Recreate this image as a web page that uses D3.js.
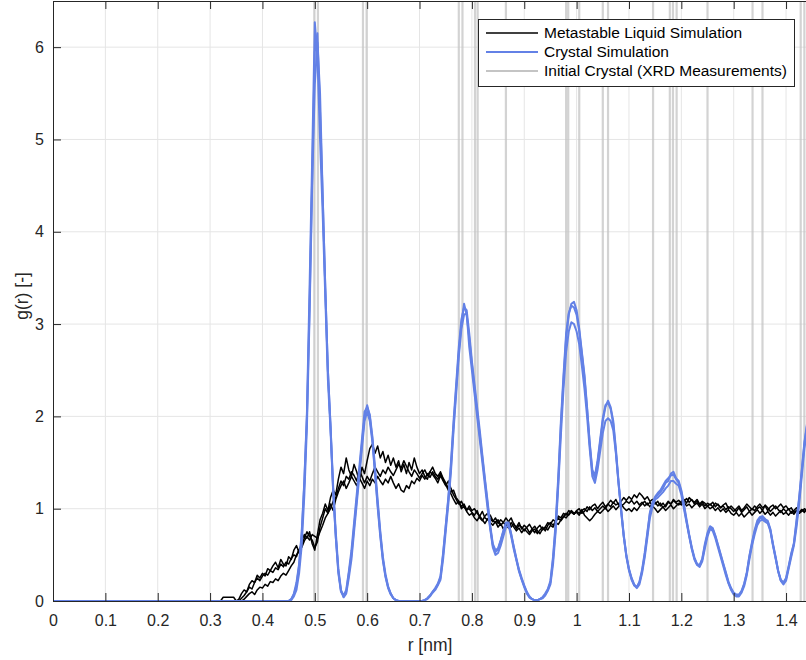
<!DOCTYPE html>
<html><head><meta charset="utf-8">
<script src="https://cdn.jsdelivr.net/npm/d3@7"></script>
<style>body{margin:0;background:#fff;}svg{display:block;font-family:"Liberation Sans",Arial,sans-serif;}</style>
</head><body><svg id="c" width="806" height="660"></svg>
<script>
// r grid [nm]: first point 0, then 0.30 .. 1.44 step 0.005
const rValues = [0].concat(d3.range(229).map(i => +(0.30 + i * 0.005).toFixed(3)));

const xTicks = [0,0.1,0.2,0.3,0.4,0.5,0.6,0.7,0.8,0.9,1.0,1.1,1.2,1.3,1.4];
const yTicks = [0,1,2,3,4,5,6];
const legendLabels = ["Metastable Liquid Simulation","Crystal Simulation","Initial Crystal (XRD Measurements)"];

// XRD peak positions (initial crystal)
const xrdPeaks = [0.499,0.506,0.592,0.599,0.775,0.782,0.806,0.811,0.865,0.980,0.984,1.005,1.050,1.060,1.146,1.178,1.184,1.191,1.250,1.336,1.355,1.428,1.435];

// Crystal simulation runs
const crystalA = [0,
0,0,0,0,0,0,0,0,0,0,
0,0,0,0,0,0,0,0,0,0,
0,0,0,0,0,0,0,0,0,0,
0,0.02,0.08,0.2,0.4,0.75,1.3,2.05,3.4,4.8,
6.27,5.9,5.0,4.2,3.3,2.4,1.85,1.2,0.7,0.3,
0.1,0.05,0.1,0.3,0.5,0.8,1.1,1.4,1.7,2.0,
2.12,2.0,1.75,1.4,1.05,0.73,0.45,0.27,0.15,0.08,
0.03,0.01,0,0,0,0,0,0,0,0,
0,0,0.01,0.03,0.06,0.1,0.13,0.18,0.25,0.5,
0.8,1.1,1.45,1.9,2.3,2.7,3.0,3.22,3.1,2.85,
2.57,2.3,2.05,1.8,1.55,1.3,1.05,0.8,0.6,0.53,
0.56,0.65,0.75,0.85,0.85,0.72,0.58,0.45,0.33,0.24,
0.16,0.09,0.04,0.02,0.01,0.01,0.02,0.04,0.07,0.12,
0.2,0.45,0.8,1.3,1.9,2.4,2.85,3.1,3.22,3.24,
3.15,2.95,2.7,2.45,2.1,1.7,1.4,1.33,1.5,1.72,
1.95,2.1,2.17,2.1,1.95,1.65,1.3,1.0,0.72,0.5,
0.35,0.25,0.18,0.15,0.2,0.32,0.5,0.72,0.95,1.05,
1.12,1.15,1.18,1.22,1.28,1.3,1.38,1.4,1.33,1.3,
1.2,1.05,0.88,0.72,0.58,0.47,0.4,0.38,0.45,0.6,
0.72,0.8,0.78,0.7,0.6,0.5,0.4,0.3,0.2,0.13,
0.08,0.06,0.06,0.1,0.18,0.3,0.48,0.62,0.75,0.85,
0.9,0.9,0.88,0.87,0.78,0.62,0.48,0.33,0.23,0.2,
0.25,0.38,0.52,0.62,0.85,1.1,1.4,1.7,1.9];

const crystalB = [0,
0,0,0,0,0,0,0,0,0,0,
0,0,0,0,0,0,0,0,0,0,
0,0,0,0,0,0,0,0,0,0,
0,0.01,0.05,0.12,0.3,0.6,1.15,1.9,3.1,4.5,
5.6,6.05,5.5,4.4,3.4,2.5,1.9,1.25,0.75,0.35,
0.12,0.04,0.08,0.25,0.45,0.75,1.05,1.35,1.65,1.95,
2.05,1.95,1.72,1.38,1.02,0.7,0.44,0.26,0.14,0.07,
0.03,0.01,0,0,0,0,0,0,0,0,
0,0,0.01,0.02,0.05,0.09,0.12,0.17,0.23,0.45,
0.75,1.05,1.4,1.85,2.25,2.65,2.95,3.1,3.12,2.75,
2.5,2.25,2.0,1.75,1.5,1.25,1.0,0.78,0.58,0.5,
0.52,0.6,0.7,0.8,0.82,0.7,0.56,0.44,0.32,0.23,
0.15,0.08,0.04,0.02,0.01,0.01,0.02,0.03,0.06,0.11,
0.18,0.4,0.75,1.25,1.8,2.3,2.7,2.92,3.02,3.0,
2.92,2.78,2.55,2.3,2.0,1.65,1.35,1.28,1.42,1.62,
1.82,1.95,1.98,1.95,1.85,1.6,1.28,0.98,0.7,0.48,
0.33,0.23,0.17,0.14,0.18,0.3,0.47,0.68,0.9,1.02,
1.1,1.12,1.15,1.18,1.22,1.25,1.3,1.3,1.27,1.25,
1.15,1.0,0.85,0.7,0.56,0.45,0.39,0.37,0.43,0.57,
0.7,0.78,0.76,0.68,0.58,0.48,0.38,0.28,0.19,0.12,
0.07,0.05,0.05,0.09,0.16,0.28,0.45,0.6,0.72,0.82,
0.87,0.88,0.86,0.84,0.76,0.6,0.46,0.32,0.22,0.18,
0.22,0.35,0.48,0.6,0.8,1.05,1.35,1.65,1.85];

const crystalC = [0,
0,0,0,0,0,0,0,0,0,0,
0,0,0,0,0,0,0,0,0,0,
0,0,0,0,0,0,0,0,0,0,
0,0.02,0.07,0.17,0.38,0.72,1.28,2.0,3.2,4.6,
5.95,6.15,5.3,4.4,3.4,2.5,1.9,1.2,0.7,0.32,
0.11,0.06,0.12,0.32,0.55,0.85,1.15,1.45,1.75,2.05,
2.1,2.02,1.78,1.45,1.1,0.76,0.48,0.29,0.16,0.08,
0.03,0.01,0,0,0,0,0,0,0,0,
0,0,0.01,0.03,0.06,0.1,0.14,0.19,0.27,0.52,
0.82,1.12,1.5,1.95,2.35,2.75,3.05,3.18,3.15,2.9,
2.6,2.35,2.1,1.85,1.58,1.32,1.08,0.82,0.62,0.55,
0.57,0.66,0.76,0.84,0.84,0.73,0.59,0.46,0.34,0.25,
0.17,0.1,0.05,0.02,0.01,0.01,0.02,0.04,0.08,0.13,
0.22,0.48,0.85,1.35,1.95,2.45,2.9,3.12,3.2,3.18,
3.1,2.92,2.68,2.42,2.08,1.72,1.42,1.36,1.52,1.75,
1.98,2.12,2.15,2.08,1.92,1.62,1.28,0.98,0.7,0.49,
0.34,0.24,0.17,0.15,0.21,0.34,0.52,0.74,0.96,1.07,
1.13,1.17,1.2,1.25,1.3,1.33,1.36,1.37,1.32,1.28,
1.18,1.03,0.86,0.71,0.57,0.46,0.4,0.39,0.46,0.62,
0.74,0.81,0.79,0.71,0.61,0.51,0.41,0.31,0.21,0.14,
0.09,0.07,0.07,0.11,0.19,0.31,0.49,0.64,0.77,0.87,
0.91,0.92,0.89,0.86,0.77,0.61,0.47,0.32,0.22,0.19,
0.24,0.37,0.5,0.63,0.88,1.12,1.42,1.72,1.92];

// Metastable liquid simulation runs
const liquidA = [0,
0,0,0,0,0,0.04,0.04,0.04,0.04,0.04,
0,0.02,0.08,0.12,0.1,0.18,0.22,0.2,0.28,0.25,
0.3,0.27,0.35,0.33,0.38,0.42,0.36,0.45,0.4,0.38,
0.48,0.45,0.55,0.6,0.52,0.65,0.72,0.68,0.75,0.62,
0.55,0.72,0.88,0.95,1.05,0.98,1.12,1.2,1.15,1.32,
1.45,1.38,1.55,1.42,1.35,1.48,1.4,1.3,1.45,1.38,
1.52,1.65,1.7,1.6,1.68,1.55,1.62,1.5,1.58,1.47,
1.55,1.45,1.52,1.4,1.48,1.38,1.5,1.42,1.55,1.45,
1.38,1.42,1.35,1.32,1.4,1.37,1.33,1.28,1.36,1.3,
1.25,1.3,1.22,1.15,1.1,1.05,1.08,1.02,0.98,1.03,
0.98,1.0,0.95,0.92,0.97,0.9,0.88,0.93,0.87,0.85,
0.88,0.82,0.85,0.9,0.86,0.8,0.84,0.78,0.82,0.8,
0.76,0.8,0.83,0.78,0.74,0.79,0.82,0.77,0.8,0.85,
0.83,0.88,0.86,0.92,0.9,0.95,0.93,0.98,0.96,0.94,
0.98,1.0,0.95,0.97,1.02,0.99,1.03,1.05,1.0,1.04,
1.07,1.02,1.05,1.09,1.06,1.1,1.04,1.08,1.12,1.09,
1.13,1.1,1.15,1.12,1.17,1.14,1.1,1.13,1.08,1.1,
1.05,1.08,1.03,1.06,1.02,1.07,1.05,1.09,1.06,1.04,
1.08,1.1,1.06,1.12,1.09,1.07,1.1,1.05,1.08,1.06,
1.03,1.05,1.02,1.06,1.04,1.01,1.03,0.99,1.02,1.0,
0.97,1.0,1.03,0.98,1.01,1.05,1.02,0.99,1.03,1.0,
1.02,0.98,1.04,1.01,0.97,1.0,1.03,0.99,0.96,1.0,
0.97,1.0,0.95,0.98,1.01,0.96,0.99,0.97,1.0];

const liquidB = [0,
0,0,0,0,0,0,0,0,0,0,
0,0,0.03,0.06,0.1,0.15,0.13,0.2,0.25,0.22,
0.27,0.3,0.28,0.33,0.31,0.36,0.34,0.4,0.37,0.42,
0.4,0.46,0.5,0.48,0.56,0.58,0.65,0.7,0.66,0.72,
0.7,0.68,0.75,0.82,0.9,0.95,1.0,1.08,1.12,1.22,
1.3,1.25,1.35,1.32,1.4,1.36,1.3,1.42,1.35,1.28,
1.35,1.3,1.38,1.45,1.4,1.35,1.42,1.38,1.45,1.4,
1.36,1.42,1.48,1.44,1.52,1.46,1.4,1.35,1.42,1.38,
1.33,1.38,1.42,1.36,1.4,1.45,1.38,1.35,1.4,1.33,
1.28,1.22,1.18,1.2,1.12,1.08,1.02,1.05,0.99,1.0,
0.96,0.93,0.98,0.9,0.87,0.92,0.95,0.89,0.86,0.9,
0.84,0.88,0.85,0.82,0.86,0.9,0.83,0.8,0.85,0.78,
0.82,0.79,0.74,0.78,0.81,0.76,0.73,0.78,0.8,0.77,
0.82,0.8,0.85,0.83,0.88,0.92,0.9,0.94,0.98,0.95,
0.96,0.93,0.98,1.0,0.97,1.02,0.98,1.01,0.97,1.0,
1.03,1.0,1.05,1.02,1.07,1.04,1.06,1.03,1.05,1.08,
1.06,1.09,1.05,1.08,1.04,1.07,1.03,1.06,1.02,1.05,
1.07,1.03,1.06,1.01,1.04,1.08,1.05,1.1,1.07,1.09,
1.06,1.08,1.11,1.07,1.1,1.05,1.08,1.04,1.07,1.03,
1.06,1.04,1.07,1.02,1.05,1.01,1.04,1.06,1.0,1.03,
1.0,0.97,1.01,0.96,0.99,1.02,0.97,1.0,0.98,1.02,
1.05,1.01,1.03,0.98,1.02,1.04,1.0,1.02,1.05,1.01,
1.03,0.99,1.01,0.96,0.98,0.95,0.97,1.0,0.98];

const liquidC = [0,
0,0,0,0,0,0,0,0,0,0,
0,0,0,0.02,0.05,0.08,0.1,0.07,0.12,0.15,
0.14,0.18,0.16,0.21,0.2,0.24,0.22,0.27,0.3,0.28,
0.33,0.38,0.42,0.5,0.55,0.6,0.68,0.75,0.7,0.66,
0.58,0.64,0.8,0.9,1.0,0.95,1.05,0.98,1.1,1.18,
1.25,1.3,1.22,1.28,1.35,1.3,1.25,1.33,1.28,1.22,
1.3,1.25,1.32,1.28,1.35,1.3,1.26,1.32,1.28,1.35,
1.28,1.22,1.27,1.2,1.18,1.25,1.22,1.3,1.27,1.33,
1.3,1.36,1.32,1.38,1.34,1.4,1.35,1.32,1.38,1.32,
1.26,1.2,1.16,1.1,1.05,1.08,1.0,1.03,0.97,0.93,
0.95,0.9,0.87,0.92,0.88,0.84,0.89,0.85,0.82,0.86,
0.8,0.84,0.78,0.82,0.79,0.85,0.8,0.76,0.79,0.74,
0.78,0.75,0.72,0.76,0.78,0.73,0.77,0.8,0.76,0.82,
0.85,0.82,0.86,0.9,0.87,0.91,0.95,0.93,0.97,0.94,
0.97,0.95,0.99,0.93,0.9,0.87,0.9,0.94,0.97,0.95,
0.98,1.01,0.97,1.0,1.03,0.99,1.02,1.05,1.01,0.98,
1.0,0.97,1.01,0.98,1.02,1.05,1.08,1.04,1.07,1.03,
1.0,0.96,0.99,1.02,0.98,1.01,1.04,1.0,1.03,1.06,
1.04,1.07,1.03,1.05,1.01,1.04,1.06,1.02,1.05,1.0,
1.03,1.0,1.02,0.98,1.01,0.97,1.0,0.96,0.99,0.95,
0.93,0.96,0.92,0.95,0.91,0.94,0.97,0.93,0.96,0.99,
0.95,0.98,0.94,0.97,0.93,0.96,0.92,0.95,0.98,0.94,
0.96,0.93,0.97,0.94,0.98,0.95,0.99,0.96,1.0];

const liquidRuns = [liquidA, liquidB, liquidC];
const crystalRuns = [crystalA, crystalB, crystalC];

const svg = d3.select("#c");
const L = 53, R = 807, T = 1, B = 601;
const x = d3.scaleLinear().domain([0, 1.44]).range([L, R]);
const y = d3.scaleLinear().domain([0, 6.5]).range([B, T]);
const axisColor = "#262626";
const blue = "#6381e6";
const grayLine = "#c4c4c4";

svg.append("defs").append("clipPath").attr("id","clip")
  .append("rect").attr("x", L).attr("y", T).attr("width", R - L).attr("height", B - T);

// grid
const grid = svg.append("g");
grid.selectAll(".gx").data(xTicks.slice(1)).join("line")
  .attr("x1", d => x(d)).attr("x2", d => x(d)).attr("y1", T).attr("y2", B)
  .attr("stroke", "#e5e5e5").attr("stroke-width", 1);
grid.selectAll(".gy").data(yTicks.slice(1)).join("line")
  .attr("x1", L).attr("x2", R).attr("y1", d => y(d)).attr("y2", d => y(d))
  .attr("stroke", "#e5e5e5").attr("stroke-width", 1);

const plot = svg.append("g").attr("clip-path", "url(#clip)");

// XRD lines
plot.selectAll(".xrd").data(xrdPeaks).join("line")
  .attr("x1", d => x(d)).attr("x2", d => x(d)).attr("y1", T).attr("y2", B)
  .attr("stroke", grayLine).attr("stroke-opacity", 0.75).attr("stroke-width", 2.2);

const line = d3.line().x((d, i) => x(rValues[i])).y(d => y(d));

plot.selectAll(".liq").data(liquidRuns).join("path")
  .attr("d", line).attr("fill", "none").attr("stroke", "#000")
  .attr("stroke-width", 1.5).attr("stroke-linejoin", "round");

plot.selectAll(".cry").data(crystalRuns).join("path")
  .attr("d", line).attr("fill", "none").attr("stroke", blue)
  .attr("stroke-width", 2).attr("stroke-linejoin", "round");

// axes
const fmt = d => String(+d.toFixed(1));
const xb = svg.append("g").attr("transform", `translate(0,${B})`)
  .call(d3.axisBottom(x).tickValues(xTicks).tickFormat(fmt).tickSizeInner(-8).tickSizeOuter(0).tickPadding(14));
const xt = svg.append("g").attr("transform", `translate(0,${T})`)
  .call(d3.axisTop(x).tickValues(xTicks).tickFormat("").tickSizeInner(-8).tickSizeOuter(0));
const yl = svg.append("g").attr("transform", `translate(${L},0)`)
  .call(d3.axisLeft(y).tickValues(yTicks).tickFormat(d3.format("d")).tickSizeInner(-8).tickSizeOuter(0).tickPadding(9));
[xb, xt, yl].forEach(g => {
  g.select(".domain").attr("stroke", axisColor).attr("stroke-width", 1);
  g.selectAll(".tick line").attr("stroke", axisColor);
  g.selectAll(".tick text").attr("fill", axisColor).attr("font-size", 16)
    .attr("font-family", "'Liberation Sans', Arial, sans-serif");
});

svg.append("text").attr("x", 430).attr("y", 651).attr("text-anchor", "middle")
  .attr("font-size", 17.5).attr("fill", axisColor).text("r [nm]");
svg.append("text").attr("transform", "translate(28,296) rotate(-90)").attr("text-anchor", "middle")
  .attr("font-size", 17.5).attr("fill", axisColor).text("g(r) [-]");

// legend
const lg = svg.append("g");
lg.append("rect").attr("x", 478.5).attr("y", 19.5).attr("width", 316).attr("height", 67)
  .attr("fill", "#fff").attr("stroke", axisColor).attr("stroke-width", 1);
const legendStyles = [{c: "#000", w: 1.5}, {c: blue, w: 2}, {c: grayLine, w: 2}];
legendLabels.forEach((t, i) => {
  const yy = 33 + i * 19;
  lg.append("line").attr("x1", 486).attr("x2", 538).attr("y1", yy).attr("y2", yy)
    .attr("stroke", legendStyles[i].c).attr("stroke-width", legendStyles[i].w);
  lg.append("text").attr("x", 544).attr("y", yy).attr("dy", "0.35em")
    .attr("font-size", 15.5).attr("fill", "#000").text(t);
});
</script></body></html>
